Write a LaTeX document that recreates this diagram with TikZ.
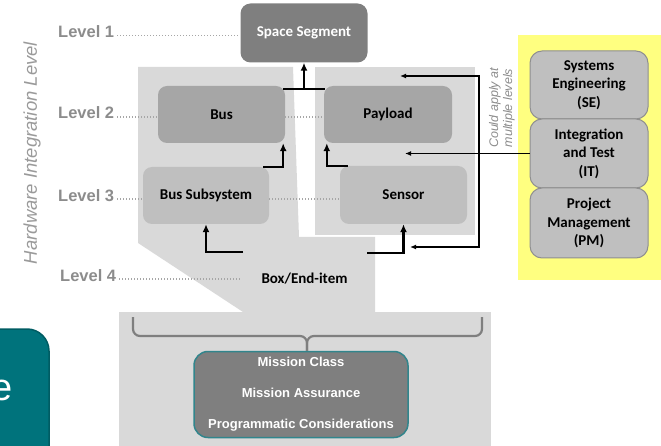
\documentclass[tikz,border=0pt]{standalone}
\usepackage{fontspec}
\setmainfont{Carlito}
\newfontfamily\arialfont{Liberation Sans}
\usetikzlibrary{arrows.meta}

\definecolor{panelgray}{HTML}{D9D9D9}
\definecolor{darkgray}{HTML}{7F7F7F}
\definecolor{midgray}{HTML}{A6A6A6}
\definecolor{lightgray}{HTML}{BFBFBF}
\definecolor{rimgray}{HTML}{8F8F8F}
\definecolor{notefill}{HTML}{FFFF80}
\definecolor{rimteal}{HTML}{31858C}
\definecolor{tabteal}{HTML}{00737C}
\definecolor{tabrim}{HTML}{005C63}
\definecolor{levelgray}{HTML}{8C8C8C}
\definecolor{axisgray}{HTML}{9A9A9A}
\definecolor{dotgray}{HTML}{A6A6A6}

\begin{document}
\begin{tikzpicture}[x=1pt,y=-1pt,
  hwbox/.style={rounded corners=9pt, minimum width=127pt, minimum height=57pt,
    inner sep=0pt, align=center, font=\fontsize{15}{17}\selectfont\bfseries},
  rolebox/.style={rounded corners=12pt, minimum width=118pt, inner sep=0pt,
    align=center, fill=lightgray, draw=rimgray, line width=1pt,
    font=\fontsize{15}{18.5}\selectfont\bfseries},
  levellabel/.style={anchor=base west, inner sep=0pt, text=levelgray,
    font=\arialfont\bfseries\fontsize{16.5}{16.5}\selectfont},
  leader/.style={dotgray, line width=1.3pt, dash pattern=on 1.1pt off 1.9pt},
  bigarrow/.style={line width=2.2pt, -{Latex[length=8pt,width=7pt]}},
  smallarrow/.style={line width=1.2pt, -{Latex[length=6pt,width=5pt]}},
  smallline/.style={line width=1.2pt},
  bracestyle/.style={darkgray, line width=2.2pt, rounded corners=7pt}
]
\useasboundingbox (0,0) rectangle (661,446);

% note panel holding the cross-cutting disciplines
\fill[notefill] (518,35) rectangle (661,280);

% light grey backdrop: hardware columns, funnel and base strip
\fill[panelgray] (138,67) -- (293,67) -- (299,237) -- (375,237) -- (375,312)
  -- (243,312) -- (138,243) -- cycle;
\fill[panelgray] (315,67) rectangle (475,235);
\fill[panelgray] (119,312) rectangle (491,446);

% teal side tab
\draw[fill=tabteal, draw=tabrim, line width=1.5pt, rounded corners=22pt]
  (-40,329) rectangle (49,480);
\node[anchor=base east, inner sep=0pt, text=white,
  font=\arialfont\fontsize{38}{38}\selectfont] (tab) at (13,400) {e};

% hardware hierarchy
\node[hwbox, fill=darkgray, text=white, minimum height=59pt, rounded corners=10pt]
  (space) at (304,33) {Space Segment};
\node[hwbox, fill=midgray] (bus) at (221.5,114.5) {Bus};
\node[hwbox, fill=midgray, minimum width=128pt] (payload) at (388,114.5) {Payload};
\node[hwbox, fill=lightgray, minimum width=126pt] (bussub) at (206,195.5) {Bus Subsystem};
\node[hwbox, fill=lightgray, minimum height=58pt] (sensor) at (403.5,195) {Sensor};
\node[inner sep=0pt, font=\fontsize{15}{17}\selectfont\bfseries]
  (item) at (304.5,279) {Box/End-item};

% level labels and leaders
\node[levellabel] (l1) at (58,37.5) {Level 1};
\node[levellabel] (l2) at (58,119) {Level 2};
\node[levellabel] (l3) at (58,202) {Level 3};
\node[levellabel] (l4) at (60,281) {Level 4};
\coordinate (l4end) at (240,279);

\draw[leader] ([xshift=3pt]l1.east |- 0,35.5) -- (space.west |- 0,35.5);
\draw[leader] ([xshift=3pt]l2.east |- 0,117) -- (bus.west |- 0,117);
\draw[leader] (bus.east |- 0,117) -- (payload.west |- 0,117);
\draw[leader] ([xshift=3pt]l3.east |- 0,199) -- (bussub.west |- 0,199);
\draw[leader] (bussub.east |- 0,199) -- (sensor.west |- 0,199);
\draw[leader] ([xshift=3pt]l4.east |- 0,279) -- (l4end);

% axis caption
\node[rotate=90, text=axisgray, font=\arialfont\itshape\fontsize{18.5}{18.5}\selectfont]
  (axis) at (32,153) {Hardware Integration Level};

% integration arrows
\coordinate (join) at (304,89);
\draw[line width=2.2pt] ([xshift=-2pt,yshift=-3pt]bus.north east)
  -- ([xshift=1pt,yshift=-3pt]payload.north west);
\draw[bigarrow] (join) -- (space.south);
\draw[bigarrow] ([xshift=-6pt]bussub.north east) -| ([xshift=-2pt]bus.south east);
\draw[bigarrow] ([xshift=8pt]sensor.north west) -| ([xshift=3pt]payload.south west);
\coordinate (itemL) at (243,252);
\coordinate (itemR) at (367,253);
\draw[bigarrow] (itemL) -| (bussub.south);
\draw[bigarrow] (itemR) -| (sensor.south);

% cross-cutting disciplines
\node[rolebox, minimum height=68pt] (se) at (589,85) {Systems\\Engineering\\(SE)};
\node[rolebox, minimum height=69pt] (it) at (589,153.5) {Integration\\and Test\\(IT)};
\node[rolebox, minimum height=70pt] (pm) at (589,223) {Project\\Management\\(PM)};

\coordinate (itEnd) at (405,153.5);
\coordinate (railTop) at (400,76);
\coordinate (railFoot) at (479,247);
\coordinate (railEnd) at (410,247);
\draw[smallarrow] (it.west) -- (itEnd);
\draw[smallline, {Latex[length=6pt,width=5pt]}-{Latex[length=6pt,width=5pt]}]
  (railTop) -| (railFoot) -- (railEnd);

\node[rotate=90, align=center, text=levelgray,
  font=\arialfont\itshape\fontsize{12.5}{14}\selectfont]
  (note) at (502,108) {Could apply at\\multiple levels};

% programmatic drivers
\node[draw=rimteal, fill=darkgray, line width=1.5pt, rounded corners=14pt,
  minimum width=214pt, minimum height=86pt, inner sep=0pt, align=center,
  text=white, font=\arialfont\bfseries\fontsize{13}{31}\selectfont]
  (mission) at (301,394.5) {Mission Class\\Mission Assurance\\Programmatic Considerations};

\coordinate (braceL) at (133,317);
\coordinate (braceR) at (482,317);
\coordinate (braceMid) at (307,336);
\draw[bracestyle] (braceL) |- (braceMid) -- (braceMid |- mission.north);
\draw[bracestyle] (braceR) |- (braceMid) -- (braceMid |- mission.north);
\end{tikzpicture}
\end{document}
